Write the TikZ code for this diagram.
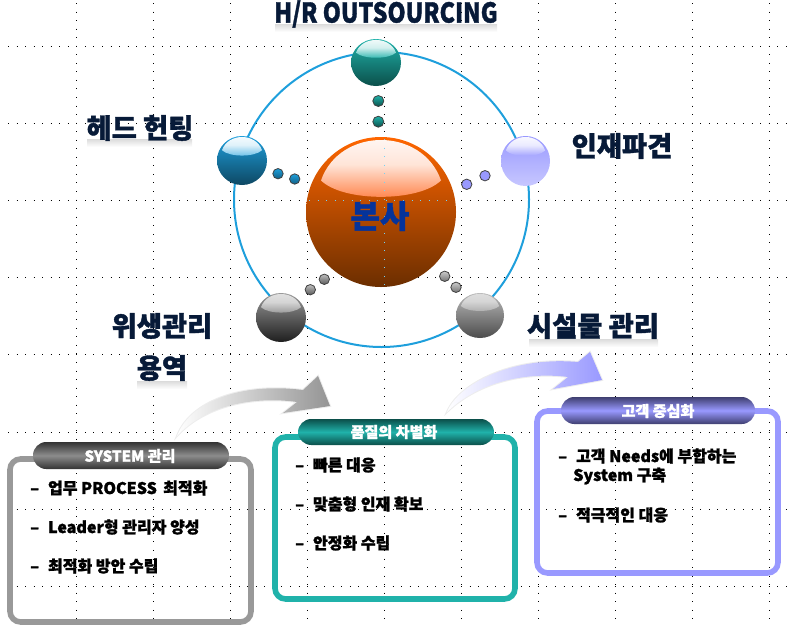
\documentclass[tikz,border=0pt]{standalone}
\usepackage{fontspec}
\setmainfont[BoldFeatures={FakeBold=1.4}]{Noto Sans CJK KR}
\usetikzlibrary{positioning}

\definecolor{ringblue}{HTML}{1E9FDC}
\definecolor{titlenavy}{HTML}{071A38}
\definecolor{hubblue}{HTML}{05339A}
\definecolor{tealmain}{HTML}{20B2AA}
\definecolor{tealdark}{HTML}{0B4F4A}
\definecolor{lilac}{HTML}{9999FF}
\definecolor{lilacdark}{HTML}{3F3F70}
\definecolor{hubtop}{HTML}{FF6600}
\definecolor{hubbottom}{HTML}{6B2E00}
\definecolor{hubgloss}{HTML}{FF7A3C}

\tikzset{
    griddot/.style={black, line width=0.7pt, dash pattern=on 0.7pt off 5.71pt},
    ringline/.style={ringblue, line width=1.5pt},
    minidot/.style={draw=black!75, line width=0.6pt},
    bigtitle/.style={font=\fontsize{20.5}{20.5}\selectfont\bfseries, text=titlenavy, inner sep=0pt},
    mirror/.style={bottom color=white, top color=gray!28, draw=none},
    panel/.style={line width=4.2pt, rounded corners=8pt},
    pill/.style={rounded corners=10pt},
    pilltext/.style={font=\fontsize{11.3}{11.3}\selectfont\bfseries, text=white, inner sep=0pt},
    itemtext/.style={font=\fontsize{12}{12}\selectfont\bfseries, text=black, anchor=west, inner sep=0pt},
}

% x y rx ry top bottom glosstop glossbottom
\newcommand{\glossball}[8]{
    \begin{scope}[shift={(#1,#2)}, x=#3*0.75pt, y=#4*0.75pt]
        \colorlet{glossa}{#7}
        \colorlet{glossb}{#8}
        \shade[top color=#5, bottom color=#6] (0,0) circle (1);
        \shade[top color=glossa, bottom color=glossb, middle color=glossa!80!glossb] (-0.8,0.42) .. controls (-0.55,1.14) and (0.55,1.14) .. (0.8,0.42)
            .. controls (0.5,0.13) and (-0.5,0.13) .. (-0.8,0.42) -- cycle;
    \end{scope}
}

\begin{document}
\begin{tikzpicture}[x=0.75pt, y=-0.75pt]
    \useasboundingbox (0,0) rectangle (787,625);

    % dotted paper grid
    \foreach \gy in {46,123,200,277,354,432,509,586}
        \draw[griddot] (8,\gy) -- (787,\gy);
    \foreach \gx in {76.7,153.7,230.7,307.7,384.7,461.7,538.7,615.7,692.7,769.7}
        \draw[griddot] (\gx,3) -- (\gx,625);

    \draw[ringline] (381.5,199.5) circle (147.5);

    % big ball and the five small ones
    \glossball{381}{212}{75}{75}{hubtop}{hubbottom}{white}{hubgloss}
    \glossball{376}{62.5}{25}{23.5}{tealmain}{tealdark}{white}{tealmain}
    \glossball{242}{160.5}{25}{24.5}{ringblue}{ringblue!45!black}{white}{ringblue!70}
    \glossball{525.5}{161}{24.5}{25}{lilac}{lilac!55}{white}{lilac}
    \glossball{281}{317.5}{25}{24.5}{black!40}{black!88}{black!10}{black!42}
    \glossball{480}{315.5}{24}{22.5}{black!27}{black!70}{black!12}{black!33}

    \draw[griddot, cyan!55] (309,200) -- (454,200);
    \draw[griddot, cyan!55] (384.7,139) -- (384.7,285);

    % small dots between hub and balls
    \draw[minidot, top color=tealmain, bottom color=tealdark] (378.3,101) circle (5.5);
    \draw[minidot, top color=tealmain, bottom color=tealdark] (378.3,121.7) circle (5.5);
    \draw[minidot, top color=ringblue, bottom color=ringblue!60!black] (278,173.7) circle (5.2);
    \draw[minidot, top color=ringblue, bottom color=ringblue!60!black] (294.7,179) circle (5.2);
    \draw[minidot, fill=lilac] (485,175.7) circle (5.2);
    \draw[minidot, fill=lilac] (466.7,184.3) circle (5.2);
    \draw[minidot, top color=black!25, bottom color=black!65] (324.3,279.3) circle (5.2);
    \draw[minidot, top color=black!25, bottom color=black!65] (310.3,289.7) circle (5.2);
    \draw[minidot, top color=black!20, bottom color=black!55] (444.7,276.3) circle (5.2);
    \draw[minidot, top color=black!20, bottom color=black!55] (456,287.3) circle (5.2);

    % faint mirror bands under the titles
    \shade[mirror] (275,24) rectangle (497,32);
    \shade[mirror] (87,139) rectangle (192,147);
    \shade[mirror] (137,381) rectangle (187,389);
    \shade[mirror] (529,339) rectangle (658,347);

    \node[bigtitle, xscale=0.845, transform shape] (outsource) at (386,14) {H/R OUTSOURCING};
    \node[bigtitle] (headhunt) at (140,128) {헤드 헌팅};
    \node[bigtitle] (dispatch) at (622,146) {인재파견};
    \node[bigtitle] (hygiene) at (162,326) {위생관리};
    \node[bigtitle] (service) at (162,368) {용역};
    \node[bigtitle] (facility) at (593,326) {시설물 관리};
    \node[bigtitle, font=\fontsize{24}{24}\selectfont\bfseries, text=hubblue] (hub) at (380,216) {본사};

    % sweeping arrows
    \shade[left color=white, middle color=black!32, right color=black!42, preaction={draw=black!20, line width=1.5pt, opacity=0.35}]
        (177,436) .. controls (190,402) and (240,382) .. (303,390) -- (318,376) -- (330,406) -- (283,413)
        -- (297,402) .. controls (255,396) and (205,405) .. (177,436) -- cycle;
    \shade[left color=white, middle color=lilac!70, right color=lilac, preaction={draw=black!20, line width=1.5pt, opacity=0.35}]
        (447,412) .. controls (458,385) and (510,356) .. (578,362) -- (590,352) -- (602,380) -- (553,389)
        -- (568,377) .. controls (530,372) and (480,380) .. (447,412) -- cycle;

    % panels
    \draw[panel, black!40] (10,459) rectangle (251,622);
    \draw[panel, tealmain] (275,437) rectangle (515,599);
    \draw[panel, lilac] (537,411) rectangle (778,573);

    % panel headers
    \shade[pill, top color=black!80, bottom color=black!80, middle color=black!45] (33,442) rectangle (229,469);
    \shade[pill, top color=tealdark, bottom color=tealdark, middle color=tealmain] (298,419) rectangle (494,445);
    \shade[pill, top color=lilacdark, bottom color=lilacdark, middle color=lilac] (561,397) rectangle (755,424);

    \node[pilltext] (sysname) at (130,456) {SYSTEM 관리};
    \node[pilltext] (qualname) at (394,432) {품질의 차별화};
    \node[pilltext] (custname) at (658,411) {고객 중심화};

    % panel items
    \node[itemtext] (sysa) at (30,488) {– \hspace{4pt}업무 PROCESS \hspace{2pt}최적화};
    \node[itemtext] (sysb) at (30,527) {– \hspace{4pt}Leader형 관리자 양성};
    \node[itemtext] (sysc) at (30,566) {– \hspace{4pt}최적화 방안 수립};
    \node[itemtext] (quala) at (295,465) {– \hspace{4pt}빠른 대응};
    \node[itemtext] (qualb) at (295,504) {– \hspace{4pt}맞춤형 인재 확보};
    \node[itemtext] (qualc) at (295,543) {– \hspace{4pt}안정화 수립};
    \node[itemtext] (custa) at (558,456) {– \hspace{4pt}고객 Needs에 부합하는};
    \node[itemtext] (custb) at (573,476) {System 구축};
    \node[itemtext] (custc) at (558,515) {– \hspace{4pt}적극적인 대응};
\end{tikzpicture}
\end{document}
